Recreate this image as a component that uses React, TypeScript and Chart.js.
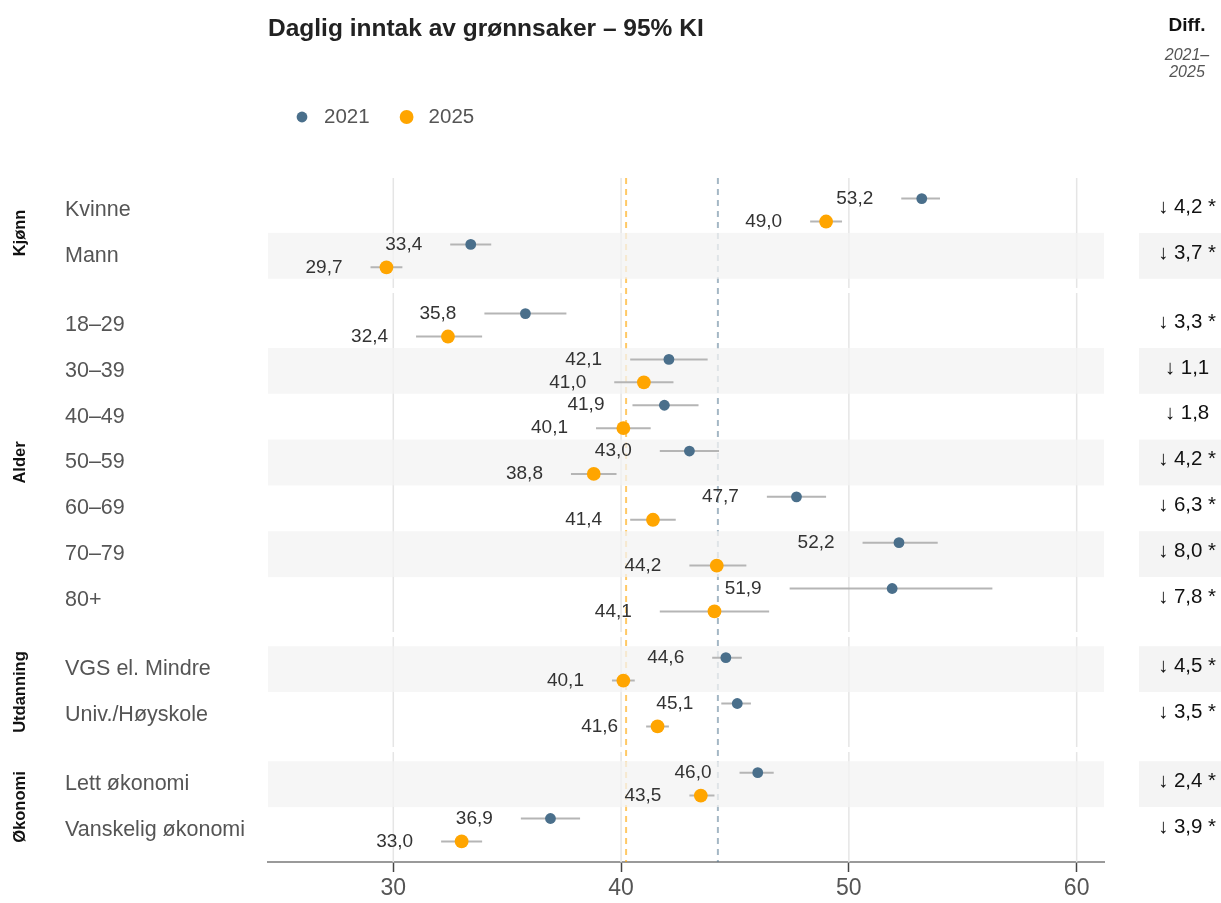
import React, { useEffect, useRef } from 'react';
import { Chart, registerables } from 'chart.js';

Chart.register(...registerables);

const FONT = '"Liberation Sans", Arial, Helvetica, sans-serif';

const chartTitle = 'Daglig inntak av grønnsaker – 95% KI';
const seriesLabels = ['2021', '2025'];
const diffHeader = ['Diff.', '2021–', '2025'];

const groups = ['Kjønn', 'Alder', 'Utdanning', 'Økonomi'];
const categories = [
  'Kvinne', 'Mann',
  '18–29', '30–39', '40–49', '50–59', '60–69', '70–79', '80+',
  'VGS el. Mindre', 'Univ./Høyskole',
  'Lett økonomi', 'Vanskelig økonomi',
];
const categoryGroup = [0, 0, 1, 1, 1, 1, 1, 1, 1, 2, 2, 3, 3];

const values2021 = [53.2, 33.4, 35.8, 42.1, 41.9, 43.0, 47.7, 52.2, 51.9, 44.6, 45.1, 46.0, 36.9];
const lower2021 = [52.3, 32.5, 34.0, 40.4, 40.5, 41.7, 46.4, 50.6, 47.4, 44.0, 44.4, 45.2, 35.6];
const upper2021 = [54.0, 34.3, 37.6, 43.8, 43.4, 44.3, 49.0, 53.9, 56.3, 45.3, 45.7, 46.7, 38.2];

const values2025 = [49.0, 29.7, 32.4, 41.0, 40.1, 38.8, 41.4, 44.2, 44.1, 40.1, 41.6, 43.5, 33.0];
const lower2025 = [48.3, 29.0, 31.0, 39.7, 38.9, 37.8, 40.4, 43.0, 41.7, 39.6, 41.1, 43.0, 32.1];
const upper2025 = [49.7, 30.4, 33.9, 42.3, 41.3, 39.8, 42.4, 45.5, 46.5, 40.6, 42.1, 44.1, 33.9];

const diffs = [4.2, 3.7, 3.3, 1.1, 1.8, 4.2, 6.3, 8.0, 7.8, 4.5, 3.5, 2.4, 3.9];
const significant = [true, true, true, false, false, true, true, true, true, true, true, true, true];

const mean2021 = 44.25;
const mean2025 = 40.22;

const xTicks = [30, 40, 50, 60];
const xMin = 24.5;
const xMax = 61.2;

const BLUE = '#4a6f8b';
const ORANGE = '#ffa500';

// vertical layout in row units
const PANEL_PAD = 0.2;
const PANEL_GAP = 0.11;
const DODGE = 0.25;

function buildLayout() {
  const panelStart: number[] = [];
  const panelEnd: number[] = [];
  const rowStart: number[] = [];
  let cursor = 0;
  groups.forEach((_, gi) => {
    panelStart[gi] = cursor;
    cursor += PANEL_PAD;
    categories.forEach((_, i) => {
      if (categoryGroup[i] === gi) {
        rowStart[i] = cursor;
        cursor += 1;
      }
    });
    cursor += PANEL_PAD;
    panelEnd[gi] = cursor;
    cursor += PANEL_GAP;
  });
  return { panelStart, panelEnd, rowStart, yMax: cursor - PANEL_GAP };
}
const L = buildLayout();
const rowCenter = L.rowStart.map((s) => s + 0.5);

const fmt = (v: number) => v.toFixed(1).replace('.', ',');

const decorPlugin = {
  id: 'decor',
  beforeDatasetsDraw(chart: any) {
    const { ctx, chartArea: ca, scales } = chart;
    const x = scales.x;
    const y = scales.y;
    ctx.save();
    // per-panel grid lines
    ctx.strokeStyle = '#e5e5e5';
    ctx.lineWidth = 1.5;
    groups.forEach((_, gi) => {
      const t = y.getPixelForValue(L.panelStart[gi]);
      const b = y.getPixelForValue(L.panelEnd[gi]);
      xTicks.forEach((v) => {
        const px = x.getPixelForValue(v);
        ctx.beginPath();
        ctx.moveTo(px, t);
        ctx.lineTo(px, b);
        ctx.stroke();
      });
    });
    // mean lines
    ctx.setLineDash([6, 5]);
    ctx.lineWidth = 2;
    const means: [number, string][] = [
      [mean2025, 'rgba(255,165,0,0.6)'],
      [mean2021, 'rgba(74,111,139,0.5)'],
    ];
    means.forEach(([m, c]) => {
      const px = x.getPixelForValue(m);
      ctx.strokeStyle = c;
      ctx.beginPath();
      ctx.moveTo(px, ca.top);
      ctx.lineTo(px, ca.bottom);
      ctx.stroke();
    });
    ctx.setLineDash([]);
    // alternating bands
    categories.forEach((_, i) => {
      if (i % 2 !== 1) return;
      const t = y.getPixelForValue(L.rowStart[i]);
      const b = y.getPixelForValue(L.rowStart[i] + 1);
      ctx.fillStyle = 'rgba(243,243,243,0.75)';
      ctx.fillRect(ca.left, t, ca.right - ca.left, b - t);
      ctx.fillStyle = '#f4f4f4';
      ctx.fillRect(ca.right + 35, t, chart.width - ca.right - 35, b - t);
    });
    ctx.restore();
  },
  afterDatasetsDraw(chart: any) {
    const { ctx, chartArea: ca, scales } = chart;
    const x = scales.x;
    const y = scales.y;
    ctx.save();
    // value labels
    ctx.font = `19px ${FONT}`;
    ctx.fillStyle = '#333333';
    ctx.textAlign = 'right';
    ctx.textBaseline = 'middle';
    categories.forEach((_, i) => {
      ctx.fillText(fmt(values2021[i]), x.getPixelForValue(lower2021[i]) - 28, y.getPixelForValue(rowCenter[i] - DODGE));
      ctx.fillText(fmt(values2025[i]), x.getPixelForValue(lower2025[i]) - 28, y.getPixelForValue(rowCenter[i] + DODGE));
    });
    // diff column
    ctx.textAlign = 'center';
    ctx.fillStyle = '#111111';
    ctx.font = `20.5px ${FONT}`;
    const dx = ca.right + 83;
    categories.forEach((_, i) => {
      const arrow = diffs[i] >= 0 ? '↓' : '↑';
      const txt = `${arrow} ${fmt(Math.abs(diffs[i]))}${significant[i] ? ' *' : ''}`;
      ctx.fillText(txt, dx, y.getPixelForValue(rowCenter[i]) - 3);
    });
    ctx.font = `bold 19px ${FONT}`;
    ctx.fillText(diffHeader[0], dx, 26);
    ctx.font = `italic 16px ${FONT}`;
    ctx.fillStyle = '#555555';
    ctx.fillText(diffHeader[1], dx, 56);
    ctx.fillText(diffHeader[2], dx, 73);
    // group labels
    ctx.font = `bold 16.5px ${FONT}`;
    ctx.fillStyle = '#111111';
    groups.forEach((g, gi) => {
      const cy = (y.getPixelForValue(L.panelStart[gi]) + y.getPixelForValue(L.panelEnd[gi])) / 2;
      ctx.save();
      ctx.translate(20, cy);
      ctx.rotate(-Math.PI / 2);
      ctx.textAlign = 'center';
      ctx.textBaseline = 'middle';
      ctx.fillText(g, 0, 0);
      ctx.restore();
    });
    // title
    ctx.font = `bold 24.5px ${FONT}`;
    ctx.fillStyle = '#222222';
    ctx.textAlign = 'left';
    ctx.fillText(chartTitle, ca.left, 29);
    // legend
    let lx = 302;
    const ly = 117;
    const pointDs = chart.data.datasets.filter((d: any) => d.isSeries);
    ctx.font = `20.5px ${FONT}`;
    pointDs.forEach((d: any) => {
      ctx.fillStyle = d.backgroundColor;
      ctx.beginPath();
      ctx.arc(lx, ly, d.pointRadius, 0, Math.PI * 2);
      ctx.fill();
      ctx.fillStyle = '#555555';
      ctx.textAlign = 'left';
      ctx.fillText(d.label, lx + 22, ly);
      lx = lx + 22 + ctx.measureText(d.label).width + 37;
    });
    ctx.restore();
  },
};

function ciData(lo: number[], hi: number[], offset: number) {
  const out: any[] = [];
  categories.forEach((_, i) => {
    out.push({ x: lo[i], y: rowCenter[i] + offset });
    out.push({ x: hi[i], y: rowCenter[i] + offset });
    out.push({ x: null, y: null });
  });
  return out;
}

export default function App() {
  const ref = useRef<HTMLCanvasElement | null>(null);
  useEffect(() => {
    if (!ref.current) return;
    const chart = new Chart(ref.current, {
      type: 'scatter',
      data: {
        datasets: [
          {
            label: seriesLabels[0],
            isSeries: true,
            data: categories.map((_, i) => ({ x: values2021[i], y: rowCenter[i] - DODGE })),
            backgroundColor: BLUE,
            borderColor: BLUE,
            borderWidth: 0,
            pointRadius: 5.4,
            order: 0,
          } as any,
          {
            label: seriesLabels[1],
            isSeries: true,
            data: categories.map((_, i) => ({ x: values2025[i], y: rowCenter[i] + DODGE })),
            backgroundColor: ORANGE,
            borderColor: ORANGE,
            borderWidth: 0,
            pointRadius: 6.9,
            order: 0,
          } as any,
          {
            label: 'KI 2021',
            type: 'line',
            data: ciData(lower2021, upper2021, -DODGE),
            showLine: true,
            spanGaps: false,
            borderColor: '#b5b5b5',
            borderWidth: 2,
            pointRadius: 0,
            order: 1,
          } as any,
          {
            label: 'KI 2025',
            type: 'line',
            data: ciData(lower2025, upper2025, DODGE),
            showLine: true,
            spanGaps: false,
            borderColor: '#b5b5b5',
            borderWidth: 2,
            pointRadius: 0,
            order: 1,
          } as any,
        ],
      },
      options: {
        animation: false,
        responsive: false,
        devicePixelRatio: 1,
        events: [],
        layout: { padding: { left: 65, right: 117, top: 178, bottom: 0 } },
        plugins: {
          legend: { display: false },
          tooltip: { enabled: false },
          title: { display: false },
        },
        scales: {
          x: {
            type: 'linear',
            min: xMin,
            max: xMax,
            afterBuildTicks: (s: any) => {
              s.ticks = xTicks.map((v) => ({ value: v }));
            },
            afterFit: (s: any) => {
              s.height = 41;
            },
            grid: {
              drawOnChartArea: false,
              drawTicks: true,
              tickLength: 10,
              tickColor: '#444444',
              tickWidth: 1.5,
              color: '#444444',
            },
            border: { display: true, color: '#9a9a9a', width: 2 },
            ticks: {
              font: { size: 23, family: FONT },
              color: '#555555',
              padding: 3,
              maxRotation: 0,
              autoSkip: false,
            },
          },
          y: {
            type: 'linear',
            min: 0,
            max: L.yMax,
            reverse: true,
            afterBuildTicks: (s: any) => {
              s.ticks = rowCenter.map((v) => ({ value: v }));
            },
            afterFit: (s: any) => {
              s.width = 203;
            },
            grid: { display: false },
            border: { display: false },
            ticks: {
              crossAlign: 'far',
              autoSkip: false,
              font: { size: 21.5, family: FONT },
              color: '#555555',
              padding: 0,
              callback: (v: any) => {
                const idx = rowCenter.findIndex((c) => Math.abs(c - Number(v)) < 1e-6);
                return idx >= 0 ? categories[idx] : '';
              },
            },
          },
        },
      } as any,
      plugins: [decorPlugin],
    });
    return () => chart.destroy();
  }, []);

  return (
    <div style={{ position: 'absolute', left: 0, top: 0, width: 1221, height: 903, background: '#ffffff' }}>
      <canvas ref={ref} width={1221} height={903} style={{ display: 'block', width: 1221, height: 903 }} />
    </div>
  );
}
